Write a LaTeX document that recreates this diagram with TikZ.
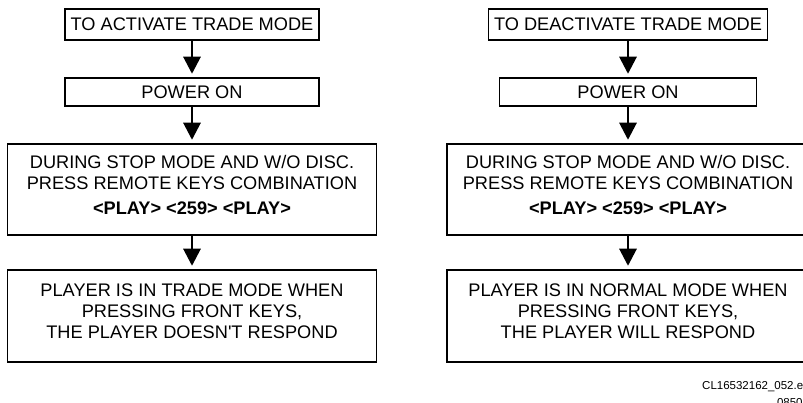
\documentclass[tikz,border=0pt]{standalone}
\usepackage{fontspec}
\setmainfont{Liberation Sans}
\usetikzlibrary{arrows.meta}

\begin{document}
\begin{tikzpicture}[x=1pt, y=-1pt,
    box/.style={draw, line width=1.6pt, inner sep=0pt, align=center,
        font=\fontsize{18.2}{21}\selectfont},
    tall/.style={box, minimum width=#1, minimum height=91pt, text depth=10pt},
    flow/.style={line width=1.4pt, shorten >=3.5pt,
        -{Triangle[width=17.5pt, length=17pt]}}]
    \useasboundingbox (0,0) rectangle (803,403);
    \clip (0,0) rectangle (803,403);
    \node[box, minimum width=254pt, minimum height=31pt] (A) at (192,24.5) {TO ACTIVATE TRADE MODE};
    \node[box, minimum width=254pt, minimum height=28pt] (B) at (192,92) {POWER ON};
    \node[tall=369pt] (C) at (192,189.5) {DURING STOP MODE AND W/O DISC.\\PRESS REMOTE KEYS COMBINATION\\[4pt]\textbf{<PLAY> <259> <PLAY>}};
    \node[tall=369pt, minimum height=92pt] (D) at (192,316) {PLAYER IS IN TRADE MODE WHEN\\PRESSING FRONT KEYS,\\THE PLAYER DOESN\textquotesingle T RESPOND};
    \node[box, minimum width=279pt, minimum height=31pt] (E) at (628,24.5) {TO DEACTIVATE TRADE MODE};
    \node[box, minimum width=257pt, minimum height=28pt] (F) at (628,92) {POWER ON};
    \node[tall=362pt] (G) at (628,189.5) {DURING STOP MODE AND W/O DISC.\\PRESS REMOTE KEYS COMBINATION\\[4pt]\textbf{<PLAY> <259> <PLAY>}};
    \node[tall=362pt, minimum height=92pt] (H) at (628,316) {PLAYER IS IN NORMAL MODE WHEN\\PRESSING FRONT KEYS,\\THE PLAYER WILL RESPOND};
    \draw[flow] (A) -- (B);
    \draw[flow] (B) -- (C);
    \draw[flow] (C) -- (D);
    \draw[flow] (E) -- (F);
    \draw[flow] (F) -- (G);
    \draw[flow] (G) -- (H);
    \node[anchor=north west, inner sep=0pt, align=right,
        font=\fontsize{11.5}{17}\selectfont] (ref) at (702,381.5) {CL16532162\_052.eps\\085010};
\end{tikzpicture}
\end{document}
